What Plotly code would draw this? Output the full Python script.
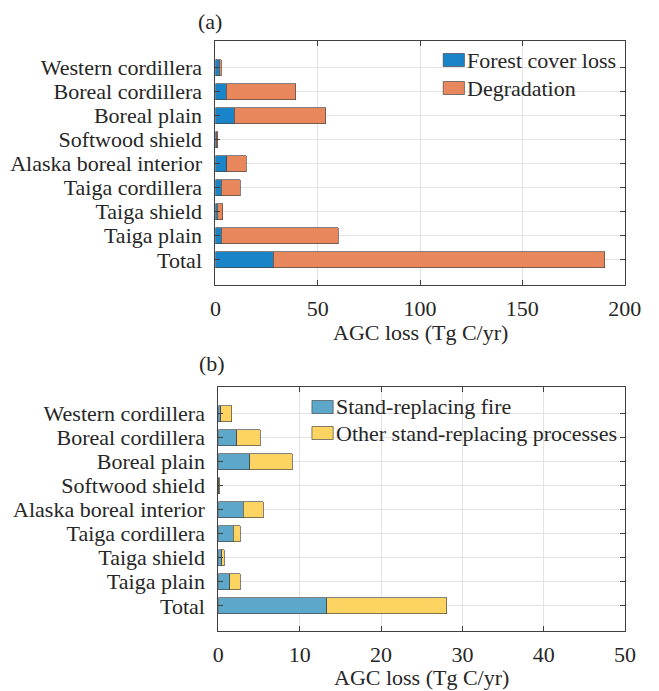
import plotly.graph_objects as go

# ---------------- data ----------------
regions = ["Western cordillera", "Boreal cordillera", "Boreal plain", "Softwood shield",
           "Alaska boreal interior", "Taiga cordillera", "Taiga shield", "Taiga plain", "Total"]

# panel (a) AGC loss (Tg C/yr)
forest_cover_loss = [1.9, 5.2, 9.1, 0.3, 5.6, 2.8, 0.9, 2.8, 28.2]
degradation = [0.9, 34.0, 44.7, 0.9, 9.4, 9.4, 2.7, 57.2, 162.0]

# panel (b) AGC loss (Tg C/yr)
stand_replacing_fire = [0.27, 2.29, 3.87, 0.03, 3.08, 1.86, 0.43, 1.38, 13.3]
other_stand_replacing = [1.35, 2.85, 5.22, 0.12, 2.42, 0.83, 0.32, 1.31, 14.8]

xticks_a = [0, 50, 100, 150, 200]
xticks_b = [0, 10, 20, 30, 40, 50]

x_title = "AGC loss (Tg C/yr)"
panel_titles = ["(a)", "(b)"]
legend_a = ["Forest cover loss", "Degradation"]
legend_b = ["Stand-replacing fire", "Other stand-replacing processes"]

# ---------------- style ----------------
W, H = 659, 691
FONT = "Times New Roman, Liberation Serif, DejaVu Serif, serif"
FS = 22
TXT = "#262626"
C_BLUE_A, C_ORANGE_A = "#1A84C8", "#E8875B"
C_BLUE_B, C_YELLOW_B = "#5DA8CA", "#FDD462"
EDGE = dict(color="rgba(70,70,70,0.85)", width=0.8)
BARW = 0.65


def px(x):
    return x / W


def py(y):
    return 1 - y / H


fig = go.Figure()

fig.add_trace(go.Bar(y=regions, x=forest_cover_loss, orientation="h", name=legend_a[0],
                     marker=dict(color=C_BLUE_A, line=EDGE), width=BARW,
                     xaxis="x", yaxis="y", showlegend=False))
fig.add_trace(go.Bar(y=regions, x=degradation, orientation="h", name=legend_a[1],
                     marker=dict(color=C_ORANGE_A, line=EDGE), width=BARW,
                     xaxis="x", yaxis="y", showlegend=False))
fig.add_trace(go.Bar(y=regions, x=stand_replacing_fire, orientation="h", name=legend_b[0],
                     marker=dict(color=C_BLUE_B, line=EDGE), width=BARW,
                     xaxis="x2", yaxis="y2", showlegend=False))
fig.add_trace(go.Bar(y=regions, x=other_stand_replacing, orientation="h", name=legend_b[1],
                     marker=dict(color=C_YELLOW_B, line=EDGE), width=BARW,
                     xaxis="x2", yaxis="y2", showlegend=False))

axis_common = dict(showline=True, linecolor="#404040", linewidth=1, mirror="ticks",
                   ticks="inside", ticklen=5, tickcolor="#404040",
                   showgrid=True, gridcolor="#E3E3E3", gridwidth=1, zeroline=False,
                   tickfont=dict(family=FONT, size=FS, color=TXT))

yrange = [len(regions) - 1 + 1.05, -1.115]
ycat = dict(type="category", categoryorder="array", categoryarray=regions,
            tickmode="array", tickvals=regions, ticktext=regions,
            range=yrange, ticklabelstandoff=8)

fig.update_layout(
    width=W, height=H, autosize=False,
    margin=dict(l=0, r=0, t=0, b=0),
    paper_bgcolor="white", plot_bgcolor="white",
    barmode="stack", bargap=0.35,
    font=dict(family=FONT, size=FS, color=TXT),
    xaxis=dict(domain=[px(217), px(641)], anchor="y", range=[0, 200],
               tickvals=xticks_a, ticklabelstandoff=4, **axis_common),
    yaxis=dict(domain=[py(285), py(41)], anchor="x", **ycat, **axis_common),
    xaxis2=dict(domain=[px(220), px(641.5)], anchor="y2", range=[0, 50],
                tickvals=xticks_b, ticklabelstandoff=4, **axis_common),
    yaxis2=dict(domain=[py(631), py(387)], anchor="x2", **ycat, **axis_common),
)

annotations = []
shapes = []


def text(x, y, s, xanchor="center"):
    annotations.append(dict(x=px(x), y=py(y), xref="paper", yref="paper", text=s,
                            showarrow=False, xanchor=xanchor, yanchor="middle",
                            font=dict(family=FONT, size=FS, color=TXT)))


# panel titles
text(211, 21, panel_titles[0])
text(213, 363, panel_titles[1])
# axis titles
text(429, 332, x_title)
text(431, 677, x_title)


def legend_entry(x0, yc, color, label):
    shapes.append(dict(type="rect", xref="paper", yref="paper",
                       x0=px(x0), x1=px(x0 + 22), y0=py(yc + 6.5), y1=py(yc - 6.5),
                       fillcolor=color, line=dict(color="rgba(70,70,70,0.85)", width=0.8)))
    text(x0 + 23, yc, label, xanchor="left")


legend_entry(453, 60, C_BLUE_A, legend_a[0])
legend_entry(453, 88, C_ORANGE_A, legend_a[1])
legend_entry(317, 407, C_BLUE_B, legend_b[0])
legend_entry(317, 433, C_YELLOW_B, legend_b[1])

fig.update_layout(annotations=annotations, shapes=shapes)

fig.write_html("out.html", config={"displayModeBar": False},
               post_script="document.body.style.margin='0';document.body.style.overflow='hidden';")
